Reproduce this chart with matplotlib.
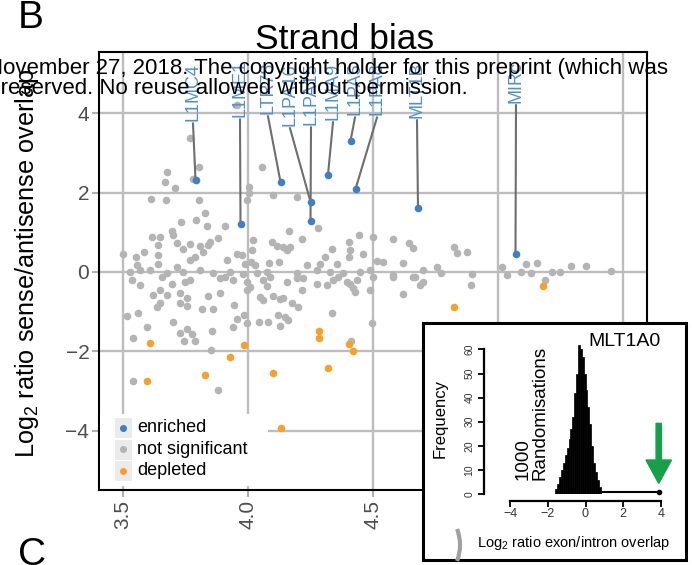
import matplotlib.pyplot as plt
from matplotlib.patches import Rectangle, Arc

plt.rcParams['font.family'] = ['Liberation Sans', 'DejaVu Sans']
plt.rcParams['mathtext.fontset'] = 'custom'
plt.rcParams['mathtext.rm'] = 'Liberation Sans'

W, H = 692, 565


def fx(px):
    return px / W


def fy(py):
    return 1 - py / H


# not significant repeats (log10 length?, log2 sense/antisense)
ns_x = [3.955, 3.768, 3.804, 3.779, 3.675, 3.667, 3.709, 4.057, 4.005,
        3.613, 3.672, 3.805, 4.005, 3.997, 4.099, 4.195, 3.828, 3.791, 3.835, 3.732, 3.908, 3.695,
        3.699, 3.615, 3.648, 4.281, 4.164, 4.443, 4.501, 4.579, 3.879, 4.021, 4.215,
        3.641, 3.717, 3.768, 3.741, 3.808, 3.841, 3.848, 3.821, 3.788, 3.585, 3.501, 3.551, 3.640,
        3.955, 3.975, 4.095, 4.115, 4.139, 4.168, 4.155, 4.337, 4.405, 4.408, 4.645, 4.661, 4.308,
        4.403, 4.461, 4.016,
        3.555, 3.641, 3.717, 3.768, 3.915, 3.988, 4.011, 4.028, 4.084, 4.123, 4.235, 4.288, 4.355,
        4.517, 4.541, 4.621, 4.701,
        3.528, 3.568, 3.608, 3.675, 3.741, 3.808, 3.861, 3.928, 3.981, 4.035, 4.075, 4.195, 4.275,
        4.328, 4.381, 4.448, 4.488, 4.579, 4.661,
        3.535, 3.568, 3.655, 3.695, 3.748, 3.888, 3.941, 3.995, 4.061, 4.155, 4.221, 4.275, 4.395,
        4.435, 4.701,
        3.621, 3.675, 3.728, 3.755, 3.728, 3.755, 3.815, 3.841, 3.861, 3.888, 3.995, 4.048, 4.061,
        4.101, 4.128, 4.141, 4.175, 4.201, 4.215, 4.428, 4.621,
        3.515, 3.561, 3.541, 3.595, 3.635, 3.648, 3.701, 3.728, 3.745, 3.755, 3.775, 3.788, 3.855,
        3.851, 3.881, 3.539, 3.944, 3.955, 3.941, 3.985, 3.997, 4.045, 4.079, 4.119, 4.128, 4.148,
        4.161, 4.335, 4.495, 4.412,
        3.768, 3.908, 4.008, 4.075, 4.088, 4.195, 4.315, 4.341, 4.361, 4.408, 4.421, 4.488, 4.501,
        4.581, 4.668, 4.688, 3.648,
        4.755, 4.771, 4.825, 4.835, 4.877, 4.895, 4.891, 5.015, 5.037, 5.092, 5.112, 5.131, 5.157,
        5.188, 5.215, 5.248, 5.291, 5.352, 5.451]
ns_y = [4.21, 3.37, 2.64, 2.33, 2.53, 2.26, 2.11, 2.65, 2.15,
        1.83, 1.81, 1.81, 1.98, 1.81, 1.94, 1.88, 1.49, 1.31, 1.16, 1.27, 1.16, 1.04,
        0.93, 0.87, 0.87, 1.10, 1.02, 0.92, 0.89, 0.84, 0.86, 0.81, 0.83,
        0.68, 0.72, 0.71, 0.57, 0.65, 0.68, 0.76, 0.51, 0.39, 0.51, 0.45, 0.39, 0.43,
        0.45, 0.43, 0.75, 0.65, 0.64, 0.64, 0.55, 0.57, 0.75, 0.55, 0.74, 0.60, 0.39,
        0.39, 0.45, 0.55,
        0.18, 0.20, 0.13, 0.30, 0.30, 0.20, 0.26, 0.18, 0.22, 0.24, 0.18, 0.20, 0.20,
        0.28, 0.24, 0.22, 0.05,
        0.01, 0.05, 0.05, -0.02, 0.01, 0.05, -0.02, 0.01, -0.05, -0.02, 0.01, -0.03, 0.05,
        0.01, -0.02, 0.01, 0.05, -0.08, -0.12,
        -0.20, -0.33, -0.12, -0.29, -0.24, -0.16, -0.20, -0.24, -0.20, -0.24, -0.16, -0.29, -0.24,
        -0.20, -0.24,
        -0.58, -0.58, -0.54, -0.66, -0.79, -0.86, -0.94, -0.60, -0.94, -0.52, -0.45, -0.62, -0.71,
        -0.60, -0.69, -0.66, -0.79, -0.89, -0.45, -0.50, -0.55,
        -1.11, -1.04, -1.67, -1.39, -0.87, -0.79, -1.25, -1.54, -1.75, -1.44, -1.57, -1.74, -1.48,
        -1.96, -2.97, -2.74, -0.83, -1.19, -1.39, -1.08, -1.29, -1.25, -1.25, -1.08, -1.36, -1.13,
        -1.21, -1.04, -1.29, -1.75,
        -0.20, -0.12, -0.37, -0.35, -0.12, -0.16, -0.33, -0.20, -0.12, -0.29, -0.41, -0.45, -0.12,
        -0.12, -0.12, -0.33, -0.45,
        0.13, -0.02, 0.64, 0.49, 0.50, -0.06, -0.33, 0.13, -0.08, -0.01, 0.20, -0.02, 0.22,
        -0.20, 0.01, -0.01, 0.14, 0.14, 0.03]

# enriched repeats
enr_names = ['L1MC4', 'L1ME1', 'LTR78', 'L1PA16', 'L1PA15', 'L1MA9', 'L1PA5', 'L1PA8', 'MLT1B', 'MIRc']
enr_x = [3.79, 3.97, 4.13, 4.25, 4.25, 4.32, 4.41, 4.43, 4.68, 5.07]
enr_y = [2.32, 1.20, 2.27, 1.77, 1.28, 2.45, 3.30, 2.09, 1.60, 0.46]
# where the repelled labels sit (bottom of text)
label_x = [3.780, 3.968, 4.080, 4.168, 4.252, 4.340, 4.428, 4.516, 4.676, 5.072]
label_y = [3.80, 3.90, 3.98, 3.68, 3.70, 3.83, 3.95, 3.95, 3.88, 4.26]

# depleted repeats
dep_x = [3.609, 3.595, 3.984, 3.929, 3.829, 4.100, 4.132, 4.284, 4.284, 4.321, 4.405, 4.419, 4.824, 5.179]
dep_y = [-1.78, -2.74, -1.83, -2.14, -2.59, -2.54, -3.93, -1.48, -1.65, -2.43, -1.81, -1.99, -0.89, -0.36]

# inset: 1000 randomisations for MLT1A0
bin_left = [-1.6, -1.5, -1.4, -1.3, -1.2, -1.1, -1.0, -0.9, -0.8, -0.7, -0.6, -0.5,
            -0.4, -0.3, -0.2, -0.1, 0.0, 0.1, 0.2, 0.3, 0.4, 0.5, 0.6, 0.7]
bin_count = [2, 4, 7, 10, 13, 16, 19, 23, 27, 32, 42, 50,
             62, 60, 57, 50, 43, 36, 29, 20, 13, 9, 6, 3]
observed = 3.9

blue = '#3f7fc4'
grey = '#b4b4b4'
orange = '#f7a12b'

fig = plt.figure(figsize=(W / 100, H / 100), dpi=100)
ax = fig.add_axes([fx(99), fy(490), (647 - 99) / W, (490 - 52) / H])

ax.scatter(ns_x, ns_y, s=30, color=grey, linewidths=0, zorder=3)
ax.scatter(dep_x, dep_y, s=30, color=orange, linewidths=0, zorder=3)
for lx, ly, px, py, name in zip(label_x, label_y, enr_x, enr_y, enr_names):
    ax.plot([lx, px], [ly - 0.06, py], color='#6e6e6e', lw=1.5, zorder=3.5)
    ax.text(lx, ly, name, rotation=90, ha='center', va='bottom', color='#4f8fd2',
            fontsize=13, zorder=5)
ax.scatter(enr_x, enr_y, s=30, color=blue, linewidths=0, zorder=4)

ax.set_xlim(3.404, 5.596)
ax.set_ylim(-5.49, 5.54)
ax.set_xticks([3.5, 4.0, 4.5, 5.0, 5.5])
ax.set_xticklabels(['3.5', '4.0', '4.5', '5.0', '5.5'], rotation=90)
ax.set_yticks([-4, -2, 0, 2, 4])
ax.set_axisbelow(True)
ax.grid(True, color='#bdbdbd', lw=1.7)
ax.tick_params(color='#b0b0b0', length=5, width=1.5, labelcolor='#4d4d4d', labelsize=15, pad=2)
for sp in ax.spines.values():
    sp.set_linewidth(1.5)
    sp.set_color('black')

# legend, ggplot style
ax.add_patch(Rectangle((0.002, 0.009), 0.306, 0.165, transform=ax.transAxes,
                       facecolor='white', edgecolor='none', zorder=5))
leg_items = [('enriched', blue), ('not significant', grey), ('depleted', orange)]
for i, (txt, col) in enumerate(leg_items):
    yc = 0.1416 - i * 0.0491
    ax.add_patch(Rectangle((0.029, yc - 0.023), 0.031, 0.045, transform=ax.transAxes,
                           facecolor='#ebebeb', edgecolor='none', zorder=6))
    ax.scatter([0.0445], [yc], s=26, color=col, linewidths=0, transform=ax.transAxes, zorder=7)
    ax.text(0.069, yc, txt, transform=ax.transAxes, va='center', ha='left', fontsize=13, zorder=7)

fig.text(fx(27), fy(458), 'Log$_{\\mathregular{2}}$ ratio sense/antisense overlap', rotation=90,
         ha='center', va='bottom', fontsize=18.2)
fig.text(fx(345), fy(49), 'Strand bias', ha='center', va='baseline', fontsize=25.5)
fig.text(fx(18), fy(28), 'B', ha='left', va='baseline', fontsize=28)
fig.text(fx(18), 0.0, 'C', ha='left', va='baseline', fontsize=28)

# inset panel
fig.add_artist(Rectangle((fx(423), fy(560)), (686 - 423) / W, (560 - 323) / H,
                         transform=fig.transFigure, facecolor='white', edgecolor='black',
                         lw=2.2, zorder=1))
fig.add_artist(Arc((fx(415), fy(545)), 90 / W, 90 / H, theta1=-25, theta2=25,
                   transform=fig.transFigure, color='#a0a0a0', lw=3, zorder=1.5))

iax = fig.add_axes([fx(510), fy(494), 151 / W, 65 * 2.41 / H], zorder=2)
iax.patch.set_visible(False)
iax.bar(bin_left, bin_count, width=0.1, align='edge', color='black', edgecolor='black', lw=0.5)
iax.plot([0.75, observed], [0.7, 0.7], color='black', lw=1.5)
iax.plot([observed], [1.0], 'o', ms=3, color='black', clip_on=False)
iax.arrow(3.88, 29.3, 0, -24.9, width=0.28, head_width=1.35, head_length=9.7,
          length_includes_head=True, color='#16a04a', clip_on=False, zorder=3)
iax.set_xlim(-4, 4)
iax.set_ylim(0, 65)
iax.spines['top'].set_visible(False)
iax.spines['right'].set_visible(False)
iax.spines['left'].set_position(('outward', 18.7))
iax.spines['bottom'].set_position(('outward', 5))
iax.spines['left'].set_bounds(0, 60)
iax.spines['bottom'].set_bounds(-4, 4)
iax.spines['left'].set_linewidth(1.6)
iax.spines['bottom'].set_linewidth(1.6)
iax.set_yticks([0, 10, 20, 30, 40, 50, 60])
iax.set_xticks([-4, -2, 0, 2, 4])
iax.tick_params(axis='y', labelsize=7.5, length=4, width=1.3, pad=3, labelrotation=90,
                labelcolor='#333333')
iax.tick_params(axis='x', labelsize=9, length=4, width=1.3, pad=1, labelcolor='#333333')
for lab in iax.get_yticklabels():
    lab.set_va('center')

fig.text(fx(440), fy(419), 'Frequency', rotation=90, ha='center', va='center', fontsize=12)
fig.text(fx(532), fy(480), '1000\nRandomisations', rotation=90, ha='center', va='bottom',
         fontsize=13.5, linespacing=1.0, multialignment='left')
fig.text(fx(625), fy(342), 'MLT1A0', ha='center', va='center', fontsize=14)
fig.text(fx(574), fy(543), 'Log$_{\\mathregular{2}}$ ratio exon/intron overlap', ha='center',
         va='center', fontsize=10.5)

# preprint watermark overlapping the panel
fig.text(fx(668), fy(74), 'November 27, 2018. The copyright holder for this preprint (which was',
         ha='right', va='baseline', fontsize=16, zorder=6)
fig.text(fx(468), fy(94), 'rights reserved. No reuse allowed without permission.',
         ha='right', va='baseline', fontsize=16, zorder=6)

fig.savefig('out.png', dpi=100)
